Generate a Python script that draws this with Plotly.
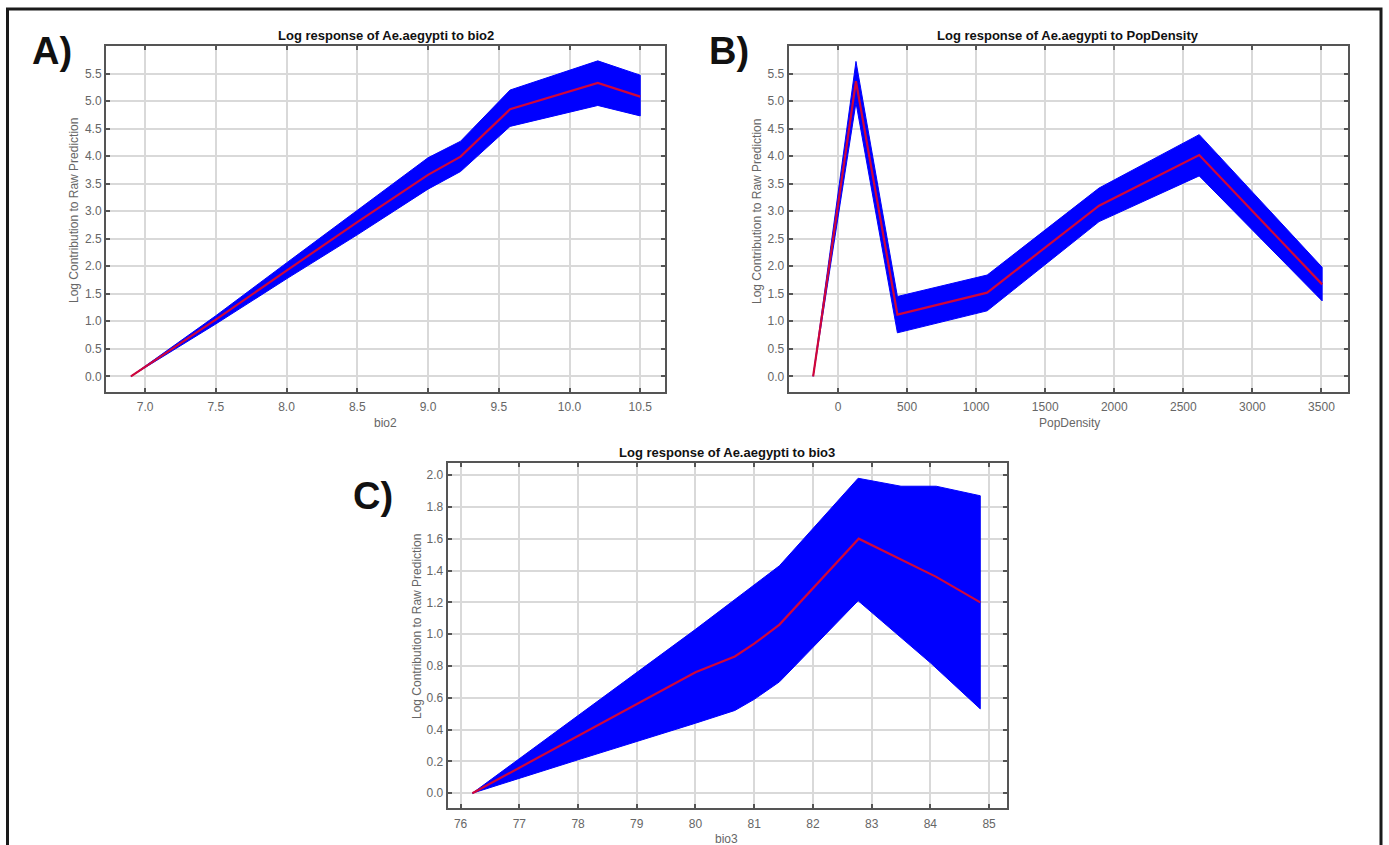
import plotly.graph_objects as go

# ---------------- data ----------------
# Panel A: bio2
a_x = [6.9, 7.5, 8.0, 8.5, 9.0, 9.23, 9.58, 10.2, 10.5]
a_mean = [0.0, 1.03, 1.92, 2.80, 3.66, 3.99, 4.85, 5.33, 5.08]
a_upper = [0.0, 1.10, 2.06, 3.02, 3.97, 4.27, 5.20, 5.73, 5.47]
a_lower = [0.0, 0.95, 1.77, 2.57, 3.40, 3.72, 4.54, 4.92, 4.73]

# Panel B: PopDensity
b_x = [-180, 130, 430, 1080, 1890, 2615, 3505]
b_mean = [0.0, 5.36, 1.12, 1.52, 3.10, 4.02, 1.67]
b_upper = [0.0, 5.72, 1.45, 1.84, 3.42, 4.39, 1.98]
b_lower = [0.0, 4.97, 0.79, 1.19, 2.81, 3.64, 1.37]

# Panel C: bio3
c_x = [76.2, 78.0, 79.0, 80.0, 80.67, 81.0, 81.43, 82.78, 84.1, 84.85]
c_mean = [0.0, 0.36, 0.56, 0.76, 0.86, 0.94, 1.06, 1.60, 1.36, 1.20]
c_up_x = [76.2, 80.0, 81.43, 82.77, 83.5, 84.1, 84.85]
c_upper = [0.0, 1.03, 1.43, 1.98, 1.93, 1.93, 1.87]
c_lo_x = [76.2, 78.0, 80.0, 80.67, 81.0, 81.43, 82.77, 84.0, 84.85]
c_lower = [0.0, 0.21, 0.44, 0.52, 0.59, 0.70, 1.21, 0.82, 0.53]

titles = ["Log response of Ae.aegypti to bio2",
          "Log response of Ae.aegypti to PopDensity",
          "Log response of Ae.aegypti to bio3"]
x_titles = ["bio2", "PopDensity", "bio3"]
y_title = "Log Contribution to Raw Prediction"
panel_labels = ["A)", "B)", "C)"]

a_xticks = [7.0, 7.5, 8.0, 8.5, 9.0, 9.5, 10.0, 10.5]
b_xticks = [0, 500, 1000, 1500, 2000, 2500, 3000, 3500]
c_xticks = [76, 77, 78, 79, 80, 81, 82, 83, 84, 85]
ab_yticks = [0.0, 0.5, 1.0, 1.5, 2.0, 2.5, 3.0, 3.5, 4.0, 4.5, 5.0, 5.5]
c_yticks = [0.0, 0.2, 0.4, 0.6, 0.8, 1.0, 1.2, 1.4, 1.6, 1.8, 2.0]

# ---------------- layout helpers ----------------
W, H = 1389, 845
def px(x):
    return x / W
def py(y):
    return 1 - y / H

BLUE = "#0000ff"
RED = "#d0063a"
FONT = "Liberation Sans, Arial, sans-serif"

fig = go.Figure()

def add_panel(idx, xs_up, ys_up, xs_lo, ys_lo, xs_m, ys_m):
    xa = "x" if idx == 1 else f"x{idx}"
    ya = "y" if idx == 1 else f"y{idx}"
    fig.add_trace(go.Scatter(
        x=list(xs_up) + list(xs_lo)[::-1],
        y=list(ys_up) + list(ys_lo)[::-1],
        fill="toself", fillcolor=BLUE, mode="lines",
        line=dict(color=BLUE, width=1), hoverinfo="skip",
        showlegend=False, xaxis=xa, yaxis=ya))
    fig.add_trace(go.Scatter(
        x=xs_m, y=ys_m, mode="lines",
        line=dict(color=RED, width=2.2), showlegend=False,
        xaxis=xa, yaxis=ya))

add_panel(1, a_x, a_upper, a_x, a_lower, a_x, a_mean)
add_panel(2, b_x, b_upper, b_x, b_lower, b_x, b_mean)
add_panel(3, c_up_x, c_upper, c_lo_x, c_lower, c_x, c_mean)

# plot-area pixel boxes (left, right, top, bottom)
boxes = [(106, 665, 46, 392), (788.7, 1347.7, 46, 392), (447.7, 1006.7, 463, 808.3)]
xranges = [[6.724, 10.675], [-357, 3690], [75.78, 85.3]]
yranges = [[-0.285, 6.0], [-0.285, 6.0], [-0.095, 2.076]]
xtickvals = [a_xticks, b_xticks, c_xticks]
xfmt = [".1f", "d", "d"]
ytickvals = [ab_yticks, ab_yticks, c_yticks]

axis_common = dict(
    showgrid=True, gridcolor="#d9d9d9", gridwidth=1.5,
    showline=True, linecolor="#555555", linewidth=2, mirror="ticks",
    ticks="inside", ticklen=4, tickwidth=1.5, tickcolor="#555555",
    tickfont=dict(family=FONT, size=12, color="#666666"),
    zeroline=False, fixedrange=True,
)

layout_axes = {}
for i in range(3):
    l, r, t, b = boxes[i]
    xname = "xaxis" if i == 0 else f"xaxis{i+1}"
    yname = "yaxis" if i == 0 else f"yaxis{i+1}"
    anchor_x = "y" if i == 0 else f"y{i+1}"
    anchor_y = "x" if i == 0 else f"x{i+1}"
    layout_axes[xname] = dict(axis_common, domain=[px(l), px(r)], range=xranges[i],
                              tickvals=xtickvals[i], tickformat=xfmt[i], anchor=anchor_x,
                              ticklabelstandoff=3)
    layout_axes[yname] = dict(axis_common, domain=[py(b), py(t)], range=yranges[i],
                              tickvals=ytickvals[i], tickformat=".1f", anchor=anchor_y)

annotations = []
# titles
title_pos = [(385.5, 36), (1068, 36), (727, 452)]
for (x, y), txt in zip(title_pos, titles):
    annotations.append(dict(x=px(x), y=py(y), xref="paper", yref="paper", text=txt,
                            showarrow=False, xanchor="center", yanchor="middle",
                            font=dict(family=FONT, size=13, color="#111111", weight="bold")))
# x-axis titles
xt_pos = [(385, 423), (1069, 423), (726, 839)]
for (x, y), txt in zip(xt_pos, x_titles):
    annotations.append(dict(x=px(x), y=py(y), xref="paper", yref="paper", text=txt,
                            showarrow=False, xanchor="center", yanchor="middle",
                            font=dict(family=FONT, size=12, color="#666666")))
# y-axis titles
yt_pos = [(74, 211), (757, 211), (417, 627)]
for (x, y) in yt_pos:
    annotations.append(dict(x=px(x), y=py(y), xref="paper", yref="paper", text=y_title,
                            showarrow=False, xanchor="center", yanchor="middle", textangle=-90,
                            font=dict(family=FONT, size=12, color="#666666")))
# panel labels
lab_pos = [(52, 51), (729, 51), (373, 496)]
for (x, y), txt in zip(lab_pos, panel_labels):
    annotations.append(dict(x=px(x), y=py(y), xref="paper", yref="paper", text=txt,
                            showarrow=False, xanchor="center", yanchor="middle",
                            font=dict(family=FONT, size=38, color="#111111", weight="bold")))

shapes = [dict(type="rect", xref="paper", yref="paper",
               x0=px(7.5), x1=px(1381), y0=py(870), y1=py(9),
               line=dict(color="#1a1a1a", width=3), fillcolor="rgba(0,0,0,0)")]

fig.update_layout(
    width=W, height=H, autosize=False,
    margin=dict(l=0, r=0, t=0, b=0),
    paper_bgcolor="white", plot_bgcolor="white",
    annotations=annotations, shapes=shapes,
    showlegend=False,
    **layout_axes,
)

fig.write_html("out.html", config={"displayModeBar": False},
               post_script="document.body.style.margin='0';document.body.style.overflow='hidden';")
